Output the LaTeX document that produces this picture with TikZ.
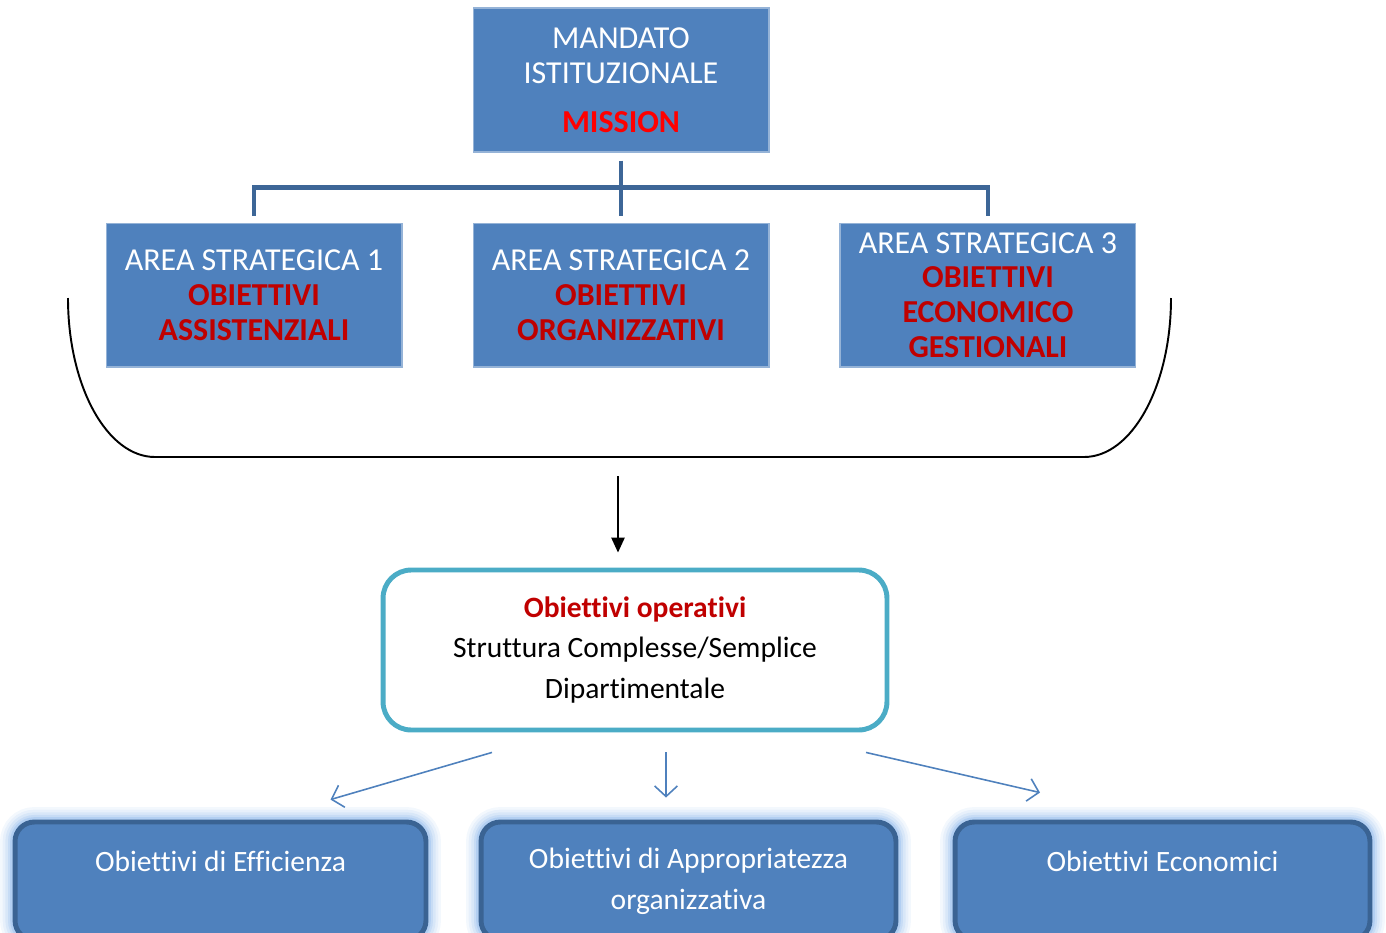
\documentclass[tikz,border=0pt]{standalone}
\usepackage{fontspec}
\setmainfont{Carlito}[Ligatures=CommonOff]
\usetikzlibrary{positioning, arrows.meta, calc}

\definecolor{boxblue}{HTML}{4F81BD}
\definecolor{treeblue}{HTML}{3D6697}
\definecolor{darkred}{HTML}{C00000}
\definecolor{opsframe}{HTML}{4BACC6}
\definecolor{botframe}{HTML}{3A6393}
\definecolor{glowblue}{HTML}{9EC2EE}

\begin{document}
\begin{tikzpicture}[
      x=0.02cm, y=-0.02cm,
      font=\fontsize{18.2}{19.8}\selectfont,
      areabox/.style={rectangle, fill=boxblue, draw=boxblue!60!white, line width=0.6pt,
                      text=white, align=center, inner sep=0pt,
                      minimum width=5.92cm, minimum height=2.88cm},
      opsbox/.style={draw=opsframe, line width=2.8pt, rounded corners=16pt, fill=white,
                     align=center, inner sep=0pt, minimum width=10.08cm, minimum height=3.2cm,
                     font=\fontsize{16.8}{23.2}\selectfont},
      botbox/.style={draw=botframe, line width=2.8pt, rounded corners=11pt, fill=boxblue,
                     minimum height=2.36cm, inner sep=0pt,
                     preaction={draw=glowblue, line width=17pt, opacity=0.12},
                     preaction={draw=glowblue, line width=14pt, opacity=0.15},
                     preaction={draw=glowblue, line width=11pt, opacity=0.2},
                     preaction={draw=glowblue, line width=8pt, opacity=0.3},
                     preaction={draw=glowblue, line width=5.5pt, opacity=0.5}},
      bottxt/.style={text=white, align=center, inner sep=0pt,
                     font=\fontsize{16.8}{23.2}\selectfont},
      tree/.style={draw=treeblue, line width=2.8pt},
      down/.style={-{Triangle[length=8.5pt, width=7.5pt]}, line width=1.1pt},
      spread/.style={draw=boxblue, line width=0.9pt, -{Straight Barb[length=6pt, width=13pt]}},
      node distance=1.4cm
    ]
    \useasboundingbox (0,0) rectangle (1386,933);
    \clip (0,0) rectangle (1386,933);

    % livello superiore
    \node[areabox] (mandato) at (621,80) {MANDATO\\ISTITUZIONALE\\[8pt]{\bfseries\color{red}MISSION}};
    \node[areabox, below=of mandato] (area2) {AREA STRATEGICA 2\\{\bfseries\color{darkred}OBIETTIVI}\\{\bfseries\color{darkred}ORGANIZZATIVI}};
    \node[areabox, left=of area2] (area1) {AREA STRATEGICA 1\\{\bfseries\color{darkred}OBIETTIVI}\\{\bfseries\color{darkred}ASSISTENZIALI}};
    \node[areabox, right=of area2] (area3) {AREA STRATEGICA 3\\{\bfseries\color{darkred}OBIETTIVI}\\{\bfseries\color{darkred}ECONOMICO}\\{\bfseries\color{darkred}GESTIONALI}};

    % albero
    \draw[tree] ($(mandato.south)+(0,8)$) -- ($(area2.north)+(0,-7)$);
    \draw[tree] ($(area1.north)+(0,-7)$) -- ++(0,-28) -| ($(area3.north)+(0,-7)$);

    % parentesi sotto le aree
    \coordinate (bl) at (68,298);
    \coordinate (br) at (1171,298);
    \coordinate (bm) at (618,457);
    \draw[line width=1.1pt] (bl) .. controls (68,386) and (107,457) .. (155,457)
      -- (1084,457) .. controls (1132,457) and (1171,386) .. (br);

    % obiettivi operativi
    \node[opsbox] (ops) at (635,650) {{\bfseries\color{darkred}Obiettivi operativi}\\Struttura Complesse/Semplice\\Dipartimentale};
    \draw[down] ($(bm)+(0,19)$) -- ($(bm |- ops.north)+(0,-15)$);

    % livello inferiore
    \node[botbox, minimum width=8.22cm] (eff) at (220.5,881) {};
    \node[botbox, minimum width=8.3cm] (appr) at (688.5,881) {};
    \node[botbox, minimum width=8.3cm] (eco) at (1162.5,881) {};
    \node[bottxt] (efftxt) at ($(eff.north)+(0,42)$) {Obiettivi di Efficienza};
    \node[bottxt] (apprtxt) at ($(appr.north)+(0,62)$) {Obiettivi di Appropriatezza\\organizzativa};
    \node[bottxt] (ecotxt) at ($(eco.north)+(0,42)$) {Obiettivi Economici};

    \draw[spread] ($(ops.south)+(-143,20)$) -- ($(eff.north)+(110,-20)$);
    \draw[spread] ($(ops.south)+(31,20)$) -- ($(appr.north)+(-22.5,-22)$);
    \draw[spread] ($(ops.south)+(231,20)$) -- ($(eco.north)+(-122.5,-27)$);
  \end{tikzpicture}
\end{document}
